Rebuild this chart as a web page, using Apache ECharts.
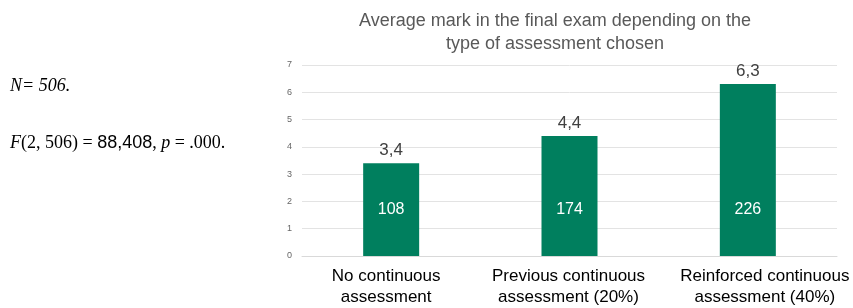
<!DOCTYPE html>
<html>
<head>
<meta charset="utf-8">
<script src="https://cdn.jsdelivr.net/npm/echarts@6/dist/echarts.min.js"></script>
<style>
  html, body { margin: 0; padding: 0; background: #fff; }
  #chart { width: 853px; height: 308px; }
</style>
</head>
<body>
<div id="chart"></div>
<script>
// data
const categories = ['No continuous\nassessment', 'Previous continuous\nassessment (20%)', 'Reinforced continuous\nassessment (40%)']
const averageMarks = [3.4, 4.4, 6.3]
const groupSizes = [108, 174, 226]
const yTicks = [0, 1, 2, 3, 4, 5, 6, 7]

const barColor = '#007f5e'
// small nudges so the category labels sit like in the original
const labelPadding = [[0, 10, 0, 0], [0, 2, 0, 0], [0, 0, 0, 34]]

const chart = echarts.init(document.getElementById('chart'))

const option = {
  animation: false,
  title: {
    text: 'Average mark in the final exam depending on the\ntype of assessment chosen',
    left: 550,
    top: 5,
    textAlign: 'center',
    textStyle: {
      fontFamily: 'Liberation Sans, Arial',
      fontSize: 18,
      fontWeight: 'normal',
      color: '#595959',
      lineHeight: 23
    }
  },
  grid: {
    left: 302,
    right: 16,
    top: 65,
    bottom: 52
  },
  xAxis: {
    type: 'category',
    data: categories.map((c, i) => ({ value: c, textStyle: { padding: labelPadding[i] } })),
    axisLine: { lineStyle: { color: '#d9d9d9' } },
    axisTick: { show: false },
    axisLabel: {
      interval: 0,
      hideOverlap: false,
      margin: 10,
      fontFamily: 'Liberation Sans, Arial',
      fontSize: 17,
      lineHeight: 21,
      color: '#000'
    }
  },
  yAxis: {
    type: 'value',
    min: yTicks[0],
    max: yTicks[yTicks.length - 1],
    interval: 1,
    axisLine: { show: false },
    axisTick: { show: false },
    axisLabel: {
      margin: 10,
      fontFamily: 'Liberation Sans, Arial',
      fontSize: 9,
      color: '#666'
    },
    splitLine: { lineStyle: { color: '#e3e3e3' } }
  },
  series: [
    {
      type: 'bar',
      data: averageMarks,
      barWidth: 56,
      itemStyle: { color: barColor },
      label: {
        show: true,
        position: 'insideBottom',
        distance: 38,
        fontFamily: 'Liberation Sans, Arial',
        fontSize: 16,
        color: '#fff',
        formatter: p => groupSizes[p.dataIndex]
      }
    },
    {
      // same values, only used for the mark labels above the bars
      type: 'bar',
      data: averageMarks,
      barWidth: 56,
      barGap: '-100%',
      itemStyle: { color: 'rgba(0,0,0,0)' },
      label: {
        show: true,
        position: 'top',
        distance: 4,
        fontFamily: 'Liberation Sans, Arial',
        fontSize: 17,
        color: '#404040',
        formatter: p => String(p.value).replace('.', ',')
      }
    }
  ],
  graphic: [
    {
      type: 'text',
      left: 10,
      top: 77,
      style: {
        text: 'N= 506.',
        font: 'italic 18px "Liberation Serif", "Times New Roman", serif',
        fill: '#000'
      }
    },
    {
      type: 'text',
      left: 10,
      top: 134,
      style: {
        text: '{i|F}{t|(2, 506) = }{a|88,408}{t|, }{i|p}{t| = .000.}',
        rich: {
          i: { fontFamily: 'Liberation Serif, Times New Roman', fontStyle: 'italic', fontSize: 18, fill: '#000' },
          t: { fontFamily: 'Liberation Serif, Times New Roman', fontSize: 18, fill: '#000' },
          a: { fontFamily: 'Liberation Sans, Arial', fontSize: 18, fill: '#000' }
        }
      }
    }
  ]
}

chart.setOption(option)
</script>
</body>
</html>
